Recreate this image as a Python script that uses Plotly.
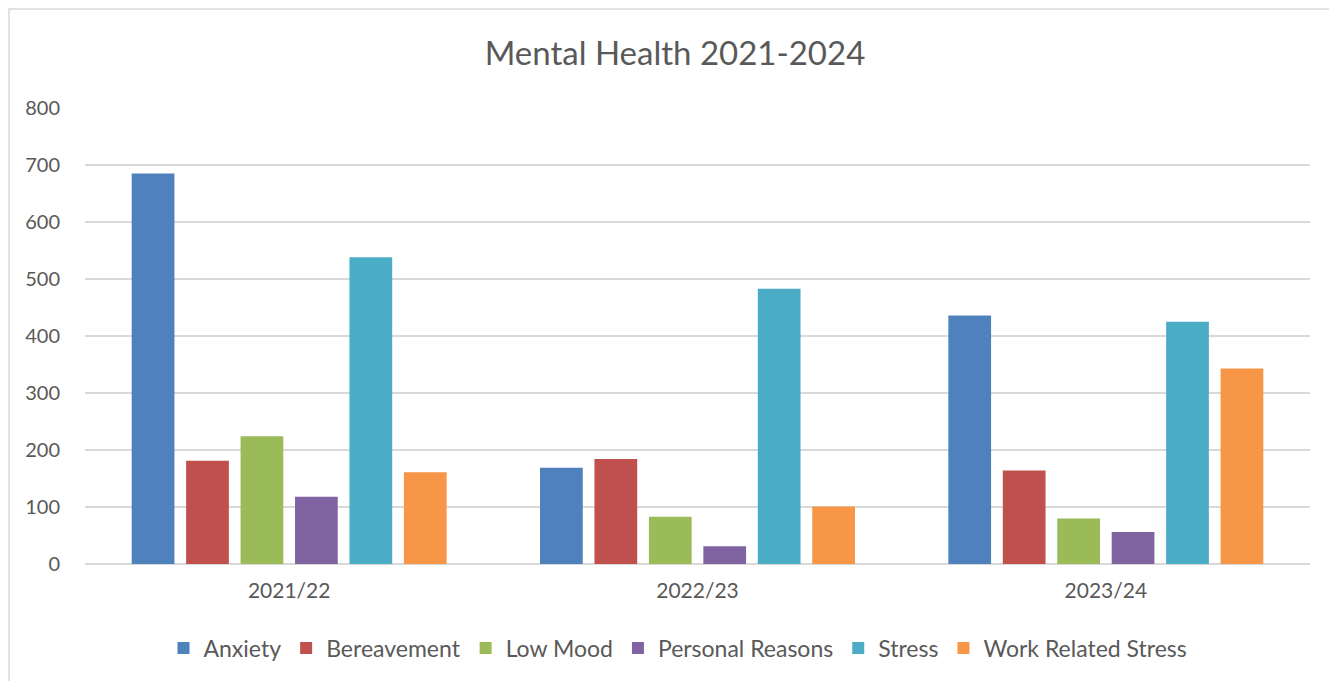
import plotly.graph_objects as go

categories = ["2021/22", "2022/23", "2023/24"]
series_names = ["Anxiety", "Bereavement", "Low Mood", "Personal Reasons", "Stress", "Work Related Stress"]
anxiety = [685, 169, 436]
bereavement = [181, 184, 164]
low_mood = [224, 83, 80]
personal_reasons = [118, 31, 56]
stress = [538, 483, 425]
work_related_stress = [161, 101, 343]
y_ticks = [0, 100, 200, 300, 400, 500, 600, 700, 800]

values = [anxiety, bereavement, low_mood, personal_reasons, stress, work_related_stress]
colors = ["#4F81BD", "#C0504D", "#9BBB59", "#8064A2", "#4BACC6", "#F79646"]

FONT = "Lato"
OFF = 8  # page body margin
W, H = 1337 - OFF, 681 - OFF
L, R, T, B = 85 - OFF, 27, 108 - OFF, 117
pw = W - L - R
ph = H - T - B

fig = go.Figure()
for name, vals, col in zip(series_names, values, colors):
    fig.add_trace(go.Bar(name=name, x=categories, y=vals, marker_color=col,
                         marker_line_width=0))

fig.update_layout(
    width=W, height=H,
    margin=dict(l=L, r=R, t=T, b=B),
    paper_bgcolor="white", plot_bgcolor="white",
    barmode="group", bargap=0.2, bargroupgap=0.215,
    title=dict(text="Mental Health 2021-2024", x=(675 - OFF) / W, xanchor="center",
               y=1 - (53 - OFF) / H, yanchor="middle", yref="container",
               font=dict(family=FONT, size=33, color="#595959")),
    font=dict(family=FONT, color="#595959"),
    showlegend=True,
    legend=dict(orientation="h", x=(678 - L - OFF) / pw, xanchor="center",
                y=(ph - (648 - OFF - T)) / ph,
                yanchor="middle", font=dict(family=FONT, size=23, color="#595959"),
                traceorder="normal", itemwidth=30),
    xaxis=dict(showgrid=False, showline=False, ticks="", tickfont=dict(size=21, color="#595959"),
               ticklabelstandoff=12),
    yaxis=dict(range=[0, 800], tickvals=y_ticks, showgrid=True, gridcolor="#D9D9D9",
               gridwidth=1.5, zeroline=True, zerolinecolor="#D9D9D9", zerolinewidth=1.5,
               showline=False, ticks="", tickfont=dict(size=20, color="#595959"),
               ticklabelstandoff=24),
    shapes=[dict(type="rect", xref="paper", yref="paper",
                 x0=(9 - OFF - L) / pw, x1=(W + 20 - L) / pw,
                 y0=-1.0, y1=(ph + T - (9 - OFF)) / ph,
                 line=dict(color="#D9D9D9", width=1.5), layer="below")],
)

fig.write_html("out.html")
